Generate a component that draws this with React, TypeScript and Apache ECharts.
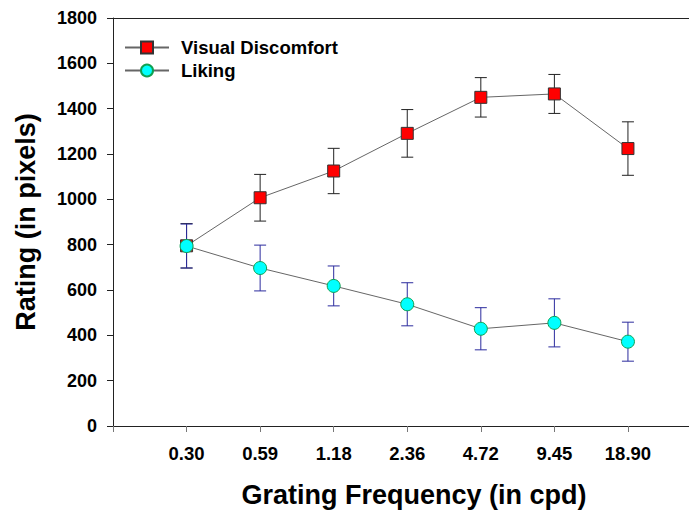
import React, { useEffect, useRef } from "react";
import * as echarts from "echarts";

const freqLabels = ["0.30", "0.59", "1.18", "2.36", "4.72", "9.45", "18.90"];
const vdMean = [795, 1007, 1125, 1291, 1450, 1465, 1224];
const vdErr = [98, 103, 100, 105, 87, 86, 118];
const likMean = [794, 697, 618, 537, 429, 455, 372];
const likErr = [97, 101, 88, 95, 93, 106, 86];
const yTicks = { min: 0, max: 1800, interval: 200 };

const FONT = "'Liberation Sans', Arial, sans-serif";

function errorBarSeries(mean: number[], err: number[], color: string, z: number) {
  return {
    type: "custom",
    z,
    silent: true,
    data: mean.map((m, i) => [i + 1, m - err[i], m + err[i]]),
    encode: { x: 0, y: [1, 2] },
    renderItem: (_params: any, api: any) => {
      const x = api.value(0);
      const lo = api.coord([x, api.value(1)]);
      const hi = api.coord([x, api.value(2)]);
      const hw = 6;
      const style = { stroke: color, lineWidth: 1 };
      return {
        type: "group",
        children: [
          { type: "line", shape: { x1: lo[0], y1: lo[1], x2: hi[0], y2: hi[1] }, style },
          { type: "line", shape: { x1: hi[0] - hw, y1: hi[1], x2: hi[0] + hw, y2: hi[1] }, style },
          { type: "line", shape: { x1: lo[0] - hw, y1: lo[1], x2: lo[0] + hw, y2: lo[1] }, style },
        ],
      };
    },
  };
}

export default function App() {
  const ref = useRef<HTMLDivElement>(null);
  useEffect(() => {
    if (!ref.current) return;
    const chart = echarts.init(ref.current, undefined, { renderer: "svg" });
    const xIdx = freqLabels.map((_, i) => i + 1);
    chart.setOption({
      animation: false,
      backgroundColor: "#ffffff",
      textStyle: { fontFamily: FONT },
      grid: { left: 113, right: 0, top: 18, bottom: 83, containLabel: false },
      legend: {
        data: ["Visual Discomfort", "Liking"],
        orient: "vertical",
        left: 119,
        top: 33,
        itemWidth: 44,
        itemHeight: 15,
        itemGap: 4,
        selectedMode: false,
        textStyle: {
          fontFamily: FONT,
          fontWeight: "bold",
          fontSize: 18.5,
          color: "#000",
          padding: [0, 0, 0, 7],
        },
      },
      xAxis: [
        {
          type: "value",
          min: 0,
          max: 7.83,
          interval: 1,
          position: "bottom",
          name: "Grating Frequency (in cpd)",
          nameLocation: "middle",
          nameGap: 55,
          nameTextStyle: {
            fontFamily: FONT,
            fontWeight: "bold",
            fontSize: 27,
            color: "#000",
            padding: [0, 0, 0, 26],
          },
          axisLine: { show: true, lineStyle: { color: "#222", width: 1 } },
          axisTick: {
            show: true,
            inside: false,
            length: 6,
            customValues: [0, ...xIdx],
            lineStyle: { color: "#777" },
          },
          axisLabel: {
            customValues: xIdx,
            formatter: (v: number) => freqLabels[Math.round(v) - 1] ?? "",
            fontFamily: FONT,
            fontWeight: "bold",
            fontSize: 18.5,
            color: "#000",
            margin: 18,
          },
          splitLine: { show: false },
        },
        {
          type: "value",
          min: 0,
          max: 7.83,
          position: "top",
          axisLine: { show: true, lineStyle: { color: "#222", width: 1 } },
          axisTick: { show: false },
          axisLabel: { show: false },
          splitLine: { show: false },
        },
      ],
      yAxis: {
        type: "value",
        min: yTicks.min,
        max: yTicks.max,
        interval: yTicks.interval,
        name: "Rating (in pixels)",
        nameLocation: "middle",
        nameGap: 74,
        nameRotate: 90,
        nameTextStyle: {
          fontFamily: FONT,
          fontWeight: "bold",
          fontSize: 27,
          color: "#000",
        },
        axisLine: { show: true, lineStyle: { color: "#222", width: 1 } },
        axisTick: { show: true, inside: false, length: 6, lineStyle: { color: "#222" } },
        axisLabel: {
          formatter: (v: number) => String(v),
          fontFamily: FONT,
          fontWeight: "bold",
          fontSize: 18,
          color: "#000",
          margin: 16,
        },
        splitLine: { show: false },
      },
      series: [
        errorBarSeries(vdMean, vdErr, "#222222", 2),
        errorBarSeries(likMean, likErr, "#2b2b9e", 2),
        {
          name: "Visual Discomfort",
          type: "line",
          z: 3,
          data: vdMean.map((v, i) => [i + 1, v]),
          symbol: "rect",
          symbolSize: 12,
          lineStyle: { color: "#666", width: 1 },
          itemStyle: { color: "#ff0000", borderColor: "#333", borderWidth: 1 },
        },
        {
          name: "Liking",
          type: "line",
          z: 4,
          data: likMean.map((v, i) => [i + 1, v]),
          symbol: "circle",
          symbolSize: 13,
          lineStyle: { color: "#666", width: 1 },
          itemStyle: { color: "#00ffff", borderColor: "#10a050", borderWidth: 1 },
        },
      ],
    });
    return () => chart.dispose();
  }, []);
  return (
    <div
      ref={ref}
      style={{ position: "absolute", left: 0, top: 0, width: 689, height: 513 }}
    />
  );
}
